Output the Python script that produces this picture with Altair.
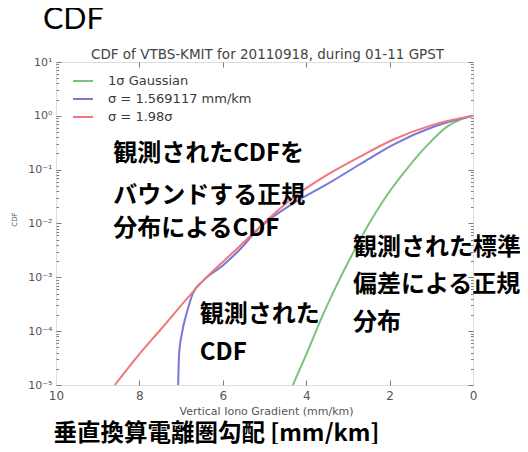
import altair as alt
import pandas as pd

# ---- data ----
series_names = ["1σ Gaussian", "σ = 1.569117 mm/km", "σ = 1.98σ"]
series_colors = ["#7cc27c", "#7878d6", "#f07878"]

green_x = [0, 0.3, 0.62, 1.1, 1.58, 2.06, 2.47, 2.88, 3.26, 3.67, 3.98, 4.32]
green_y = [1.0, 0.851, 0.631, 0.282, 0.105, 0.0339, 0.0107, 0.00282, 0.00074, 0.000151, 0.0000398, 0.00001]

blue_x = [0, 0.96, 1.92, 2.71, 3.5, 4.32, 4.87, 5.2, 5.55, 6.0, 6.47, 6.72, 6.86, 6.98, 7.05, 7.07]
blue_y = [1.0, 0.62, 0.29, 0.126, 0.0537, 0.0234, 0.012, 0.0072, 0.00355, 0.00166, 0.00087, 0.0005, 0.000224, 0.0000912, 0.0000355, 0.00001]

red_x = [0, 0.96, 1.92, 2.71, 3.5, 4.32, 4.94, 5.66, 6.47, 7.5, 8.06, 8.59]
red_y = [1.0, 0.68, 0.36, 0.175, 0.08, 0.03, 0.0115, 0.00339, 0.00087, 0.000105, 0.0000331, 0.00001]

x_ticks = [10, 8, 6, 4, 2, 0]
x_inner_ticks = [8, 6, 4, 2]
y_ticks = [10, 1, 0.1, 0.01, 0.001, 0.0001, 0.00001]
y_tick_labels = ["10¹", "10⁰", "10⁻¹", "10⁻²", "10⁻³", "10⁻⁴", "10⁻⁵"]
y_minor_steps = [2, 3, 4, 5, 6, 7, 8, 9]

ann_a_text = ["観測されたCDFを", "バウンドする正規", "分布によるCDF", "観測された", "CDF"]
ann_a_x = [8.63, 8.63, 8.63, 6.55, 6.55]
ann_a_y = [0.195, 0.0324, 0.0079, 0.0002, 0.0000389]

ann_b_text = ["観測された標準", "偏差による正規", "分布"]
ann_b_x = [2.88, 2.88, 2.88]
ann_b_y = [0.00347, 0.00072, 0.000141]

main_title = "CDF"
plot_title = "CDF of VTBS-KMIT for 20110918, during 01-11 GPST"
x_title = "Vertical Iono Gradient (mm/km)"
y_title = "CDF"
jp_x_title = "垂直換算電離圏勾配 [mm/km]"

# ---- tables ----
rows = []
for name, xs, ys in zip(series_names, [green_x, blue_x, red_x], [green_y, blue_y, red_y]):
    for xv, yv in zip(xs, ys):
        rows.append({"series": name, "x": xv, "y": yv})
df = pd.DataFrame(rows)
ann_a = pd.DataFrame({"x": ann_a_x, "y": ann_a_y, "text": ann_a_text})
ann_b = pd.DataFrame({"x": ann_b_x, "y": ann_b_y, "text": ann_b_text})

label_expr = ""
for v, l in zip(y_ticks, y_tick_labels):
    label_expr += f"datum.value > {v / 2} ? '{l}' : "
label_expr += "''"

y_all_ticks = list(y_ticks) + [d * k for d in y_ticks[1:] for k in y_minor_steps]
major_test = "abs(log(datum.value)/LN10 - round(log(datum.value)/LN10)) < 0.001"
y_tick_size = {"condition": {"test": major_test, "value": 5}, "value": 2.5}

xscale = alt.Scale(domain=[0, 10], reverse=True, nice=False, zero=False)
yscale = alt.Scale(type="log", domain=[1e-5, 10], nice=False)

W, H = 417, 323
TICK_COLOR = "#7a7a7a"

lines = alt.Chart(df).mark_line(strokeWidth=2, interpolate="monotone").encode(
    x=alt.X("x:Q", scale=xscale, axis=alt.Axis(
        values=x_ticks, format="d", title=x_title, labelFlush=False,
        ticks=False, domain=False, grid=False, labelPadding=5,
        labelFont="DejaVu Sans", labelFontSize=12, labelColor="#555555",
        titleFont="DejaVu Sans", titleFontSize=11, titleFontWeight="normal",
        titleColor="#555555", titleX=210, titleY=26, titleAlign="center",
        titleBaseline="middle")),
    y=alt.Y("y:Q", scale=yscale, axis=alt.Axis(
        values=y_ticks, labelExpr=label_expr, title=y_title, ticks=False,
        domain=False, grid=False, labelPadding=4, labelOverlap=False,
        labelFont="DejaVu Sans", labelFontSize=11, labelColor="#555555",
        titleFont="DejaVu Sans", titleFontSize=7, titleFontWeight="normal",
        titleColor="#555555", titleX=-42, titleY=157, titleAngle=270,
        titleAlign="center", titleBaseline="middle")),
    color=alt.Color("series:N", sort=series_names,
                    scale=alt.Scale(domain=series_names, range=series_colors),
                    legend=alt.Legend(orient="none", legendX=16, legendY=8, title=None,
                                      symbolType="stroke", symbolSize=400,
                                      symbolStrokeWidth=2, labelFont="DejaVu Sans",
                                      labelFontSize=13, labelColor="#3a3a3a",
                                      labelOffset=14, rowPadding=0, padding=0)),
)

text_style = dict(align="left", baseline="middle", font="Noto Sans CJK JP",
                  fontSize=24, fontWeight="bold", color="black")

texts_a = alt.Chart(ann_a).mark_text(**text_style).encode(
    x=alt.X("x:Q", scale=xscale, axis=alt.Axis(
        orient="top", title=plot_title, labels=False, ticks=False, domain=False,
        grid=False, titleFont="DejaVu Sans", titleFontSize=13.5,
        titleFontWeight="normal", titleColor="#444444", titleX=211, titleY=-4,
        titleAlign="center", titleBaseline="alphabetic")),
    y=alt.Y("y:Q", scale=yscale, axis=None),
    text="text:N",
)

texts_b = alt.Chart(ann_b).mark_text(**text_style).encode(
    x=alt.X("x:Q", scale=xscale, axis=alt.Axis(
        orient="bottom", title=jp_x_title, labels=False, ticks=False, domain=False,
        grid=False, titleFont="Noto Sans CJK JP", titleFontSize=23.5,
        titleFontWeight="bold", titleColor="black", titleX=-3, titleY=55,
        titleAlign="left", titleBaseline="alphabetic")),
    y=alt.Y("y:Q", scale=yscale, axis=None),
    text="text:N",
)


def tick_axis(orient, values, size, offset):
    return alt.Axis(orient=orient, values=values, offset=offset, labels=False,
                    domain=False, grid=False, title=None, ticks=True,
                    tickSize=size, tickColor=TICK_COLOR, tickWidth=1)


# inward ticks on the bottom and left edges (axes drawn from the opposite side)
ticks_bl = alt.Chart(df).mark_point(opacity=0, size=0).encode(
    x=alt.X("x:Q", scale=xscale, axis=tick_axis("top", x_inner_ticks, 5, -H)),
    y=alt.Y("y:Q", scale=yscale, axis=tick_axis("right", y_all_ticks, y_tick_size, -W)),
)
# inward ticks on the top and right edges
ticks_tr = alt.Chart(df).mark_point(opacity=0, size=0).encode(
    x=alt.X("x:Q", scale=xscale, axis=tick_axis("bottom", x_inner_ticks, 5, -H)),
    y=alt.Y("y:Q", scale=yscale, axis=tick_axis("left", y_all_ticks, y_tick_size, -W)),
)

chart = alt.layer(ticks_bl, ticks_tr, lines, texts_a, texts_b).resolve_axis(
    x="independent", y="independent"
).properties(
    width=W, height=H,
    autosize=alt.AutoSizeParams(type="none"),
    padding={"left": 48, "top": 54, "right": 47, "bottom": 59},
    title=alt.Title(main_title, anchor="start", frame="group", dx=-13, offset=12,
                    font="Lato", fontSize=30.5, fontWeight="normal", color="black"),
).configure_view(stroke="#8a8a8a", strokeWidth=1.5).configure(background="white")

chart.save("out.html", embed_options={"renderer": "svg", "actions": False})
